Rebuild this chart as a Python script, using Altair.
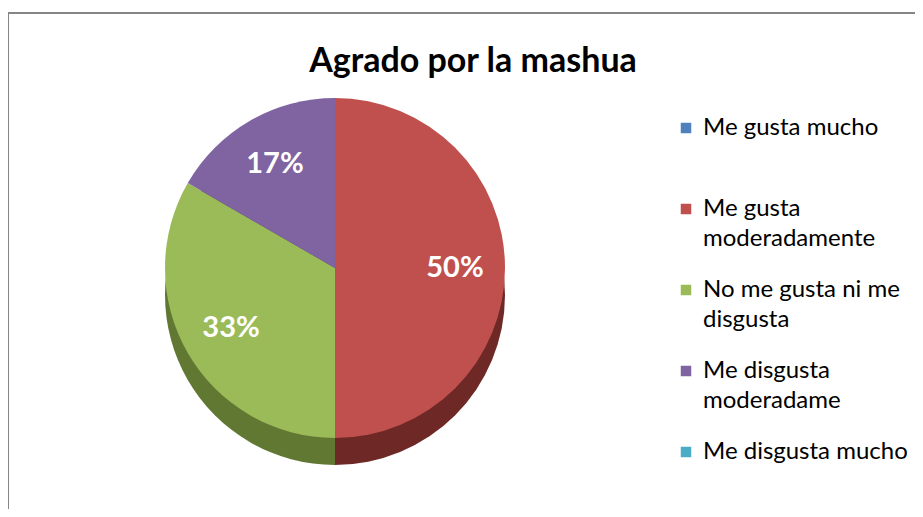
import altair as alt
import pandas as pd

# ---- data ----
categories = ["Me gusta mucho", "Me gusta moderadamente", "No me gusta ni me disgusta",
              "Me disgusta moderadame", "Me disgusta mucho"]
counts = [0, 3, 2, 1, 0]
legend_lines = [["Me gusta mucho", ""], ["Me gusta", "moderadamente"],
                ["No me gusta ni me", "disgusta"], ["Me disgusta", "moderadame"],
                ["Me disgusta mucho", ""]]

# ---- palette ----
top_colors = ["#4F81BD", "#C0504D", "#9BBB59", "#8064A2", "#4BACC6"]
side_colors = ["#2f4d71", "#6e2826", "#617833", "#4d3c63", "#2c6e80"]

df = pd.DataFrame({"cat": categories, "count": counts, "idx": list(range(len(categories)))})

W, H = 907, 501
CX, CY, R, D = 327, 260, 170, 27
FONT = "Lato"

label_expr = " : ".join(
    f"datum.label == '{c}' ? ['{l[0]}', '{l[1]}']" for c, l in zip(categories, legend_lines)
) + " : datum.label"

theta = alt.Theta("count:Q", stack=True)
order = alt.Order("idx:Q")

side = alt.Chart(df).mark_arc(radius=R, stroke=None).encode(
    theta=theta, order=order,
    x=alt.value(CX), y=alt.value(CY + D),
    color=alt.Color("cat:N", scale=alt.Scale(domain=categories, range=side_colors), legend=None),
)

top = alt.Chart(df).mark_arc(radius=R, stroke=None).encode(
    theta=theta, order=order,
    x=alt.value(CX), y=alt.value(CY),
    color=alt.Color("cat:N", scale=alt.Scale(domain=categories, range=top_colors),
                    sort=categories,
                    legend=alt.Legend(title=None, orient="none", legendX=666, legendY=108,
                                      symbolType="square", symbolSize=110, symbolStrokeWidth=0,
                                      labelFont=FONT, labelFontSize=24, labelColor="#000000",
                                      labelExpr=label_expr, rowPadding=27, labelLimit=300,
                                      labelOffset=5)),
)

labels = alt.Chart(df).transform_joinaggregate(
    total="sum(count)"
).transform_calculate(
    pct="datum.count / datum.total"
).transform_filter("datum.count > 0").mark_text(
    radius=120, font=FONT, fontSize=29, fontWeight="bold", color="white"
).encode(
    theta=theta, order=order,
    x=alt.value(CX), y=alt.value(CY),
    text=alt.Text("pct:Q", format=".0%"),
)

title_df = pd.DataFrame({"t": ["Agrado por la mashua"]})
title = alt.Chart(title_df).mark_text(
    font=FONT, fontSize=34, fontWeight="bold", color="black", baseline="middle", align="center"
).encode(x=alt.value(465), y=alt.value(54), text="t:N")

frame_df = pd.DataFrame({"a": [0]})
top_rule = alt.Chart(frame_df).mark_rule(color="#868686", strokeWidth=2).encode(
    x=alt.value(0), x2=alt.value(W), y=alt.value(5))
left_rule = alt.Chart(frame_df).mark_rule(color="#868686", strokeWidth=2).encode(
    x=alt.value(0), y=alt.value(5), y2=alt.value(H))

chart = alt.layer(top_rule, left_rule, side, top, labels, title).resolve_scale(
    color="independent", theta="independent"
).properties(
    width=W, height=H, padding=0, autosize="none", background="white"
).configure(
    style={"guide-label": {"lineHeight": 30}}
).configure_view(stroke=None)

chart.save("out.html", embed_options={"renderer": "svg", "actions": False})
